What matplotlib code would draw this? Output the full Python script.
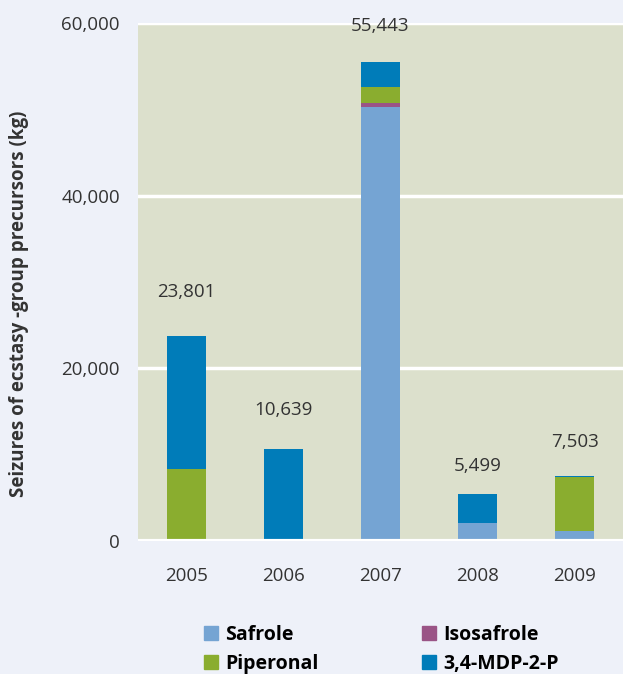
import matplotlib.pyplot as plt
import numpy as np
from matplotlib.patches import Patch

plt.rcParams['font.family'] = ['Open Sans', 'DejaVu Sans']

years = ['2005', '2006', '2007', '2008', '2009']
safrole = [0, 0, 50300, 2100, 1160]
isosafrole = [0, 0, 400, 0, 0]
piperonal = [8300, 0, 1900, 0, 6250]
mdp2p = [15501, 10639, 2843, 3399, 93]
totals = ['23,801', '10,639', '55,443', '5,499', '7,503']
label_pad = [31, 28, 26.5, 19.5, 25]  # points above bar top

names = ['Safrole', 'Isosafrole', 'Piperonal', '3,4-MDP-2-P']
colors = ['#75A4D3', '#9A5486', '#8AAD2F', '#007CB9']
series = [safrole, isosafrole, piperonal, mdp2p]

fig = plt.figure(figsize=(6.23, 6.74), dpi=100, facecolor='#EEF1F9')
ax = fig.add_axes([138 / 623, 1 - 541 / 674, 485 / 623, 518 / 674])
ax.set_facecolor('#DCE0CC')

x = np.arange(len(years))
bottom = np.zeros(len(years))
for vals, col in zip(series, colors):
    ax.bar(x, vals, 0.41, bottom=bottom, color=col, zorder=3)
    bottom += np.array(vals)

for i, t in enumerate(totals):
    ax.annotate(t, (x[i], bottom[i]), xytext=(0, label_pad[i]), textcoords='offset points',
                ha='center', va='center', fontsize=13.5, color='#333333')

ax.set_xlim(-0.5, 4.5)
ax.set_ylim(0, 60000)
ax.set_yticks([0, 20000, 40000, 60000])
ax.set_yticklabels(['0', '20,000', '40,000', '60,000'])
ax.set_xticks(x)
ax.set_xticklabels(years)
ax.grid(axis='y', color='white', linewidth=2.5, zorder=1)
ax.axhline(0, color='white', linewidth=3, zorder=4)
for s in ax.spines.values():
    s.set_visible(False)
ax.tick_params(length=0, labelsize=13.5, colors='#333333')
ax.tick_params(axis='x', pad=19)
ax.tick_params(axis='y', pad=13)
ax.set_ylabel('Seizures of ecstasy -group precursors (kg)', fontsize=13.5,
              fontweight='bold', color='#333333')
ax.yaxis.set_label_coords(-0.225, 0.457)

# legend fills column-wise, so order for row-wise reading
order = [0, 2, 1, 3]
handles = [Patch(color=colors[k]) for k in order]
labels = [names[k] for k in order]
fig.legend(handles, labels, loc='upper left', bbox_to_anchor=(196 / 623, 1 - 617 / 674),
           ncol=2, frameon=False, prop={'weight': 'bold', 'size': 14},
           handlelength=0.75, handleheight=0.75, handletextpad=0.35,
           columnspacing=5.3, labelspacing=0.45, borderaxespad=0)

fig.savefig('out.png', dpi=100, facecolor=fig.get_facecolor())
